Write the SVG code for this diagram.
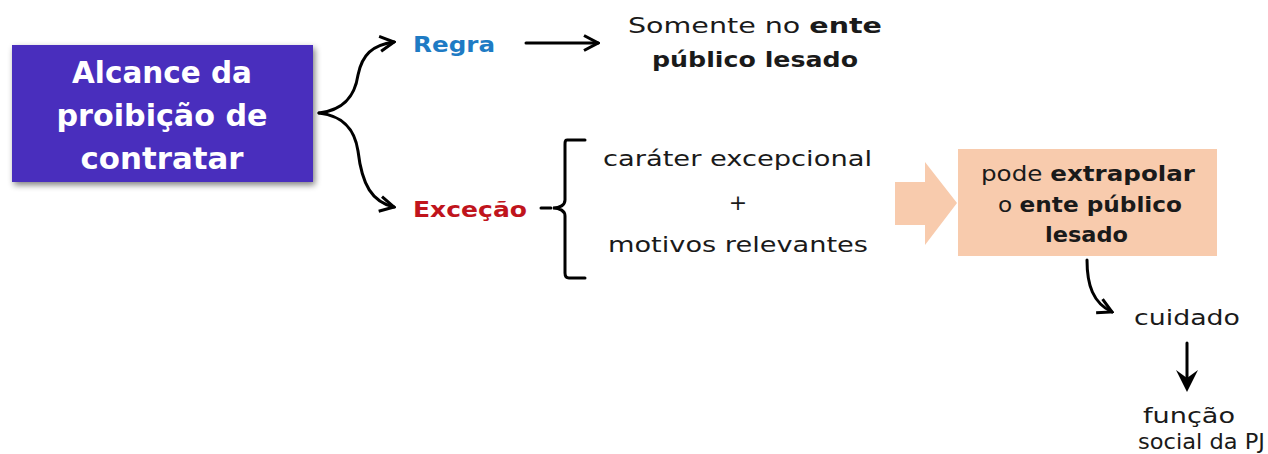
<svg xmlns="http://www.w3.org/2000/svg" width="1268" height="454" viewBox="0 0 1268 454">
<defs>
<filter id="sh" x="-10%" y="-10%" width="125%" height="130%">
<feGaussianBlur in="SourceAlpha" stdDeviation="3"/>
<feOffset dx="2" dy="3"/>
<feComponentTransfer><feFuncA type="linear" slope="0.5"/></feComponentTransfer>
<feMerge><feMergeNode/><feMergeNode in="SourceGraphic"/></feMerge>
</filter>
<marker id="ah" viewBox="0 0 18 18" refX="16" refY="9" markerWidth="18" markerHeight="18" markerUnits="userSpaceOnUse" orient="auto">
<path d="M2,1.5 L16,9 L2,16.5" fill="none" stroke="#000" stroke-width="3"/>
</marker>
</defs>
<style>
text{font-family:"DejaVu Sans","Open Sans",sans-serif;}
.t{font-size:22px;fill:#1a1a1a;}
.b{font-weight:bold;}
.ln{fill:none;stroke:#000;stroke-width:3;stroke-linecap:round;}
</style>
<rect width="1268" height="454" fill="#fff"/>

<g id="main">
<rect x="12" y="45" width="301" height="137" fill="#4a2dbd" filter="url(#sh)"/>
<text x="162" y="83" text-anchor="middle" font-size="30" font-weight="bold" fill="#fff" textLength="180" lengthAdjust="spacingAndGlyphs">Alcance da</text>
<text x="162" y="126" text-anchor="middle" font-size="30" font-weight="bold" fill="#fff" textLength="211" lengthAdjust="spacingAndGlyphs">proibição de</text>
<text x="162" y="169" text-anchor="middle" font-size="30" font-weight="bold" fill="#fff" textLength="163" lengthAdjust="spacingAndGlyphs">contratar</text>
</g>

<g id="regra">
<text x="413" y="52" font-size="22" font-weight="bold" fill="#1e7bc4" textLength="82" lengthAdjust="spacingAndGlyphs">Regra</text>
</g>
<g id="excecao">
<text x="413" y="217" font-size="22" font-weight="bold" fill="#c0141c" textLength="114" lengthAdjust="spacingAndGlyphs">Exceção</text>
</g>
<g id="somente">
<text x="628" y="33" class="t" textLength="254" lengthAdjust="spacingAndGlyphs">Somente no <tspan class="b">ente</tspan></text>
<text x="652" y="67" class="t b" textLength="206" lengthAdjust="spacingAndGlyphs">público lesado</text>
</g>
<g id="requisitos">
<text x="603" y="166" class="t" textLength="269" lengthAdjust="spacingAndGlyphs">caráter excepcional</text>
<text x="738" y="210" text-anchor="middle" class="t">+</text>
<text x="608" y="252" class="t" textLength="260" lengthAdjust="spacingAndGlyphs">motivos relevantes</text>
</g>
<g id="extrapolar">
<path d="M895,182 L925,182 L925,162 L957,203 L925,245 L925,225 L895,225 Z" fill="#f8cbad"/>
<rect x="958" y="149" width="259" height="107" fill="#f8cbad"/>
<text x="981" y="181" class="t" textLength="214" lengthAdjust="spacingAndGlyphs">pode <tspan class="b">extrapolar</tspan></text>
<text x="998" y="212" class="t" textLength="184" lengthAdjust="spacingAndGlyphs">o <tspan class="b">ente público</tspan></text>
<text x="1045" y="242" class="t b" textLength="83" lengthAdjust="spacingAndGlyphs">lesado</text>
</g>
<g id="cuidado">
<text x="1134" y="325" class="t" textLength="106" lengthAdjust="spacingAndGlyphs">cuidado</text>
</g>
<g id="funcao">
<text x="1143" y="423" class="t" textLength="92" lengthAdjust="spacingAndGlyphs">função</text>
<text x="1138" y="449" class="t" textLength="127" lengthAdjust="spacingAndGlyphs">social da PJ</text>
</g>

<g id="connectors">
<path class="ln" d="M319,113 C345,110 355,95 358,75 C362,55 372,45 394,42" marker-end="url(#ah)"/>
<path class="ln" d="M319,113 C345,116 355,131 358,151 C362,185 372,202 394,207" marker-end="url(#ah)"/>
<path class="ln" d="M526,43 L598,43" marker-end="url(#ah)"/>
<path class="ln" d="M541,208 L551,208"/>
<path class="ln" d="M585,140 L567,140 C565,140 565,142 565,145 L565,200 C565,205 560,208 553,208 C560,208 565,211 565,216 L565,273 C565,276 566,278 569,278 L585,278"/>
<path class="ln" d="M1087,260 C1087,285 1093,303 1112,312" marker-end="url(#ah)"/>
<path class="ln" d="M1187,343 L1187,385"/>
<path d="M1176,370 L1187,392 L1198,370 L1187,378 Z" fill="#000"/>
</g>
</svg>
